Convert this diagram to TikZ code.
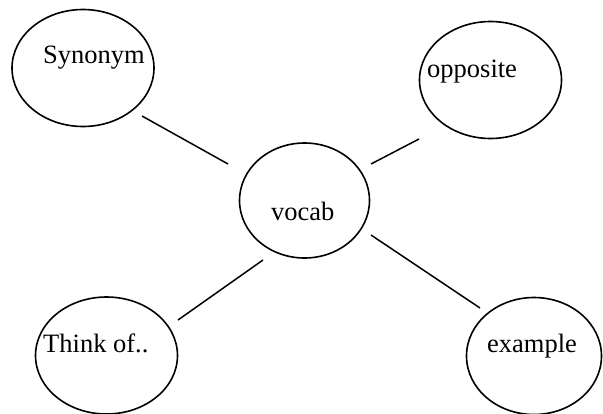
\documentclass[tikz,border=0pt]{standalone}
\usepackage{fontspec}
\setmainfont{Liberation Serif}
\usetikzlibrary{shapes.geometric}
\tikzset{
    bubble/.style={draw,ellipse,line width=1.6pt,inner sep=0pt,minimum width=142pt,minimum height=117pt},
    word/.style={anchor=base west,inner sep=0pt,font=\fontsize{26.5pt}{30pt}\selectfont},
    spoke/.style={line width=1.5pt}
}
\begin{document}
\begin{tikzpicture}[x=1pt,y=-1pt]
        \useasboundingbox (0,0) rectangle (603,413);
        \clip (0,0) rectangle (603,413);
        %bolle
            \node[bubble] (syn) at (83,68) {};
            \node[bubble] (opp) at (490.5,80) {};
            \node[bubble,minimum width=130pt,minimum height=115pt] (voc) at (304.5,200.5) {};
            \node[bubble] (think) at (106.5,355.5) {};
            \node[bubble,minimum width=135pt] (ex) at (534,356) {};
        %testi
        \node[word] (syn-txt) at (43,63) {Synonym};
        \node[word] (opp-txt) at (427,77) {opposite};
        \node[word] (voc-txt) at (271,220) {vocab};
        \node[word] (think-txt) at (43,352) {Think of..};
        \node[word] (ex-txt) at (487,352) {example};
        %estremi dei raggi
         \coordinate (syn-a) at (142,116);  \coordinate (syn-b) at (228,164);
         \coordinate (opp-a) at (371,164);  \coordinate (opp-b) at (419,139);
         \coordinate (think-a) at (263,260); \coordinate (think-b) at (178,320);
         \coordinate (ex-a) at (371,235);   \coordinate (ex-b) at (480,308);
        %raggi
         \draw[spoke] (syn-a) -- (syn-b);
         \draw[spoke] (opp-a) -- (opp-b);
         \draw[spoke] (think-a) -- (think-b);
         \draw[spoke] (ex-a) -- (ex-b);
\end{tikzpicture}
\end{document}
